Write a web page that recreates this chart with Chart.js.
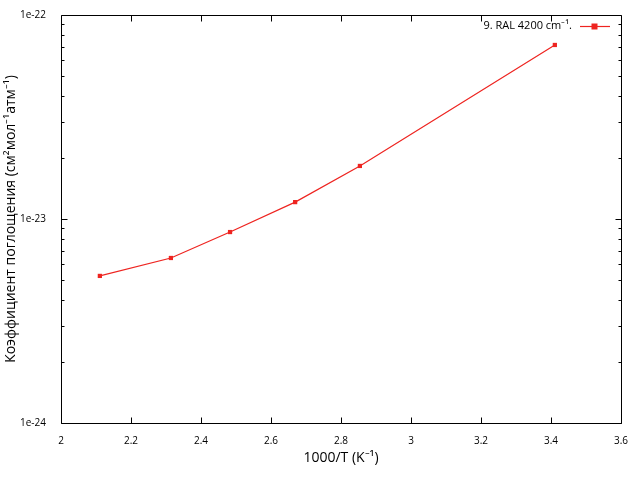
<!DOCTYPE html>
<html>
<head>
<meta charset="utf-8">
<script src="https://cdn.jsdelivr.net/npm/chart.js@4"></script>
<style>
html,body{margin:0;padding:0;background:#fff;}
#wrap{width:640px;height:480px;}
</style>
</head>
<body>
<div id="wrap"><canvas id="c" width="640" height="480"></canvas></div>
<script>
const seriesLabel = '9. RAL 4200 cm\u207B\u00B9.';
const xValues = [2.111, 2.314, 2.483, 2.669, 2.854, 3.411];
const yValues = [5.26e-24, 6.44e-24, 8.63e-24, 1.21e-23, 1.82e-23, 7.13e-23];
const xTicks = [2, 2.2, 2.4, 2.6, 2.8, 3, 3.2, 3.4, 3.6];
const xTickLabels = ['2', '2.2', '2.4', '2.6', '2.8', '3', '3.2', '3.4', '3.6'];
const yTicks = [1e-24, 1e-23, 1e-22];
const yTickLabels = ['1e-24', '1e-23', '1e-22'];
const xTitle = '1000/T (K\u207B\u00B9)';
const yTitle = 'Коэффициент поглощения (см\u00B2мол\u207B\u00B9атм\u207B\u00B9)';
const lineColor = '#ee2420';
const FONT = '"Open Sans", sans-serif';

const framePlugin = {
  id: 'frame',
  afterDraw(chart) {
    const ctx = chart.ctx, a = chart.chartArea;
    const xs = chart.scales.x, ys = chart.scales.y;
    ctx.save();
    ctx.strokeStyle = '#000';
    ctx.lineWidth = 1;
    ctx.beginPath();
    const L = Math.round(a.left)+0.5, R = Math.round(a.right)+0.5, T = Math.round(a.top)+0.5, B = Math.round(a.bottom)+0.5;
    ctx.rect(L, T, R-L, B-T);
    xTicks.forEach(v => {
      const p = Math.round(xs.getPixelForValue(v))+0.5;
      ctx.moveTo(p, B); ctx.lineTo(p, B-6);
      ctx.moveTo(p, T); ctx.lineTo(p, T+6);
    });
    for (let e = -24; e < -22; e++) {
      for (let m = 1; m <= 9; m++) {
        const v = m * Math.pow(10, e);
        const p = Math.round(ys.getPixelForValue(v))+0.5;
        const len = m === 1 ? 6 : 3;
        ctx.moveTo(L, p); ctx.lineTo(L+len, p);
        ctx.moveTo(R, p); ctx.lineTo(R-len, p);
      }
    }
    ctx.stroke();
    // legend
    const ly = 26;
    ctx.font = '11px ' + FONT;
    ctx.fillStyle = '#000';
    ctx.textAlign = 'right';
    ctx.textBaseline = 'middle';
    ctx.fillText(seriesLabel, 572, ly);
    ctx.strokeStyle = lineColor;
    ctx.lineWidth = 1.2;
    ctx.beginPath();
    ctx.moveTo(580, ly+0.5); ctx.lineTo(610, ly+0.5);
    ctx.stroke();
    ctx.fillStyle = lineColor;
    ctx.fillRect(591.5, ly-2.5, 6, 6);
    ctx.restore();
  }
};

new Chart(document.getElementById('c'), {
  type: 'line',
  data: {
    datasets: [{
      label: seriesLabel,
      data: xValues.map((x, i) => ({x: x, y: yValues[i]})),
      borderColor: lineColor,
      backgroundColor: lineColor,
      borderWidth: 1.2,
      pointStyle: 'rect',
      pointRadius: 3,
      pointBorderWidth: 0,
      tension: 0
    }]
  },
  options: {
    responsive: false,
    animation: false,
    devicePixelRatio: 1,
    layout: {padding: {top: 15, right: 19, left: 0, bottom: 0}},
    plugins: {legend: {display: false}, tooltip: {enabled: false}},
    scales: {
      x: {
        type: 'linear', min: 2, max: 3.6,
        grid: {display: false}, border: {display: false},
        afterBuildTicks: s => { s.ticks = xTicks.map(v => ({value: v})); },
        afterFit: s => { s.height = 57; },
        ticks: {
          padding: 4, color: '#000', font: {family: FONT, size: 10},
          maxRotation: 0, autoSkip: false,
          callback: (v, i) => xTickLabels[i]
        },
        title: {display: true, text: xTitle, color: '#000', font: {family: FONT, size: 14}, padding: {top: 4, bottom: 14}}
      },
      y: {
        type: 'logarithmic', min: 1e-24, max: 1e-22,
        grid: {display: false}, border: {display: false},
        afterBuildTicks: s => { s.ticks = yTicks.map(v => ({value: v})); },
        afterFit: s => { s.width = 61; },
        ticks: {
          padding: 7, color: '#000', font: {family: FONT, size: 10},
          autoSkip: false,
          callback: (v, i) => yTickLabels[i]
        },
        title: {display: true, text: yTitle, color: '#000', font: {family: FONT, size: 14}, padding: {top: 3, bottom: 4}}
      }
    }
  },
  plugins: [framePlugin]
});
</script>
</body>
</html>
